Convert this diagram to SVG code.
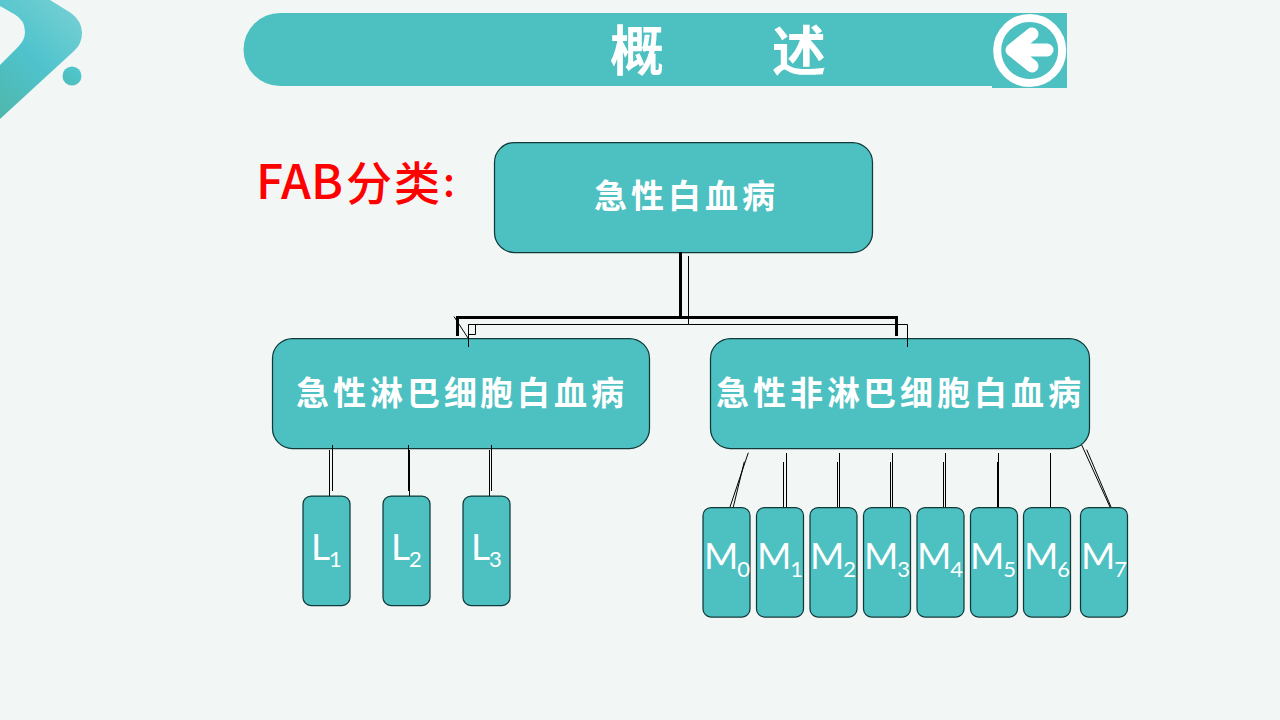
<svg xmlns="http://www.w3.org/2000/svg" width="1280" height="720" viewBox="0 0 1280 720">
<style>
.b{fill:#4dc0c1;stroke:#123a3a;stroke-width:1.25}
.cn{font-family:"Noto Sans CJK SC","Noto Sans CJK JP",sans-serif;font-weight:700;fill:#fff;font-size:33px}
.m{font-family:Lato,"Open Sans",sans-serif;font-weight:400;fill:#fff;font-size:37px}
.s{font-size:22px}
.k1{stroke:#000;stroke-width:3;fill:none}
.k2{stroke:#000;stroke-width:1;fill:none}
.red{font-family:"Noto Sans CJK SC",sans-serif;fill:#ff0000;font-weight:500}
</style>
<defs>
<linearGradient id="g" x1="0.75" y1="0" x2="0.1" y2="1"><stop offset="0" stop-color="#72cfd2"/><stop offset="0.5" stop-color="#4fc3cd"/><stop offset="1" stop-color="#4fb8ae"/></linearGradient>
<linearGradient id="g2" x1="0" y1="1" x2="1" y2="0"><stop offset="0" stop-color="#4fbcb8"/><stop offset="1" stop-color="#50c8d2"/></linearGradient>
</defs>
<rect width="1280" height="720" fill="#f2f7f6"/>
<g id="logo">
<path d="M50 0 L71 13 Q82 21 82 33 Q82 44 74 51 L0 119 L0 65 L18 47 Q25 40 25 32 Q25 20 14 14 L0 6 L0 0 Z" fill="url(#g)"/>
<circle cx="72" cy="76" r="9.500" fill="url(#g2)"/>
</g>
<g id="title">
<path d="M280 13 H1067 V88 H992 V86 H280 A36.500 36.500 0 0 1 280 13 Z" fill="#4dc0c1"/>
<text class="cn" style="font-size:54px" x="610" y="71">概</text>
<text class="cn" style="font-size:54px" x="772" y="71">述</text>
</g>
<g id="back">
<circle cx="1029.700" cy="50.500" r="32.500" fill="#4dc0c1" stroke="#fff" stroke-width="8"/>
<path d="M1032 34 L1012 50 L1032 66 M1014 50 H1047" fill="none" stroke="#fff" stroke-width="13" stroke-linecap="round" stroke-linejoin="round"/>
</g>
<g id="fab">
<text class="red" font-size="48" x="256" y="199">FAB</text>
<text class="red" font-size="46" x="346 394" y="200">分类</text>
<text class="red" font-size="40" font-weight="700" x="443" y="196">:</text>
</g>
<g id="root"><rect class="b" x="494.500" y="142.500" width="378" height="110" rx="20"/><text class="cn" x="594 631 668 705 742" y="208">急性白血病</text></g>
<g id="all"><rect class="b" x="272.500" y="338.500" width="377" height="110" rx="20"/><text class="cn" x="296 333 370 407 444 480 517 554 591" y="405">急性淋巴细胞白血病</text></g>
<g id="anll"><rect class="b" x="710.500" y="338.500" width="379" height="110" rx="20"/><text class="cn" x="716 753 790 827 863 900 937 974 1011 1048" y="405">急性非淋巴细胞白血病</text></g>
<g id="L1"><rect class="b" x="303" y="496" width="47" height="109.500" rx="8"/><text class="m" x="311" y="560">L<tspan class="s" dx="-1" dy="7">1</tspan></text></g>
<g id="L2"><rect class="b" x="383" y="496" width="47" height="109.500" rx="8"/><text class="m" x="391" y="560">L<tspan class="s" dx="-1" dy="7">2</tspan></text></g>
<g id="L3"><rect class="b" x="463" y="496" width="47" height="109.500" rx="8"/><text class="m" x="471" y="560">L<tspan class="s" dx="-1" dy="7">3</tspan></text></g>
<g id="M0"><rect class="b" x="703" y="507.500" width="47" height="109.500" rx="8"/><text class="m" x="704" y="569">M<tspan class="s" dx="-1" dy="8">0</tspan></text></g>
<g id="M1"><rect class="b" x="756.500" y="507.500" width="47" height="109.500" rx="8"/><text class="m" x="757" y="569">M<tspan class="s" dx="-1" dy="8">1</tspan></text></g>
<g id="M2"><rect class="b" x="810" y="507.500" width="47" height="109.500" rx="8"/><text class="m" x="810" y="569">M<tspan class="s" dx="-1" dy="8">2</tspan></text></g>
<g id="M3"><rect class="b" x="863.500" y="507.500" width="47" height="109.500" rx="8"/><text class="m" x="864" y="569">M<tspan class="s" dx="-1" dy="8">3</tspan></text></g>
<g id="M4"><rect class="b" x="917" y="507.500" width="47" height="109.500" rx="8"/><text class="m" x="917" y="569">M<tspan class="s" dx="-1" dy="8">4</tspan></text></g>
<g id="M5"><rect class="b" x="970.500" y="507.500" width="47" height="109.500" rx="8"/><text class="m" x="970" y="569">M<tspan class="s" dx="-1" dy="8">5</tspan></text></g>
<g id="M6"><rect class="b" x="1023.500" y="507.500" width="47" height="109.500" rx="8"/><text class="m" x="1024" y="569">M<tspan class="s" dx="-1" dy="8">6</tspan></text></g>
<g id="M7"><rect class="b" x="1080.500" y="507.500" width="47" height="109.500" rx="8"/><text class="m" x="1081" y="569">M<tspan class="s" dx="-1" dy="8">7</tspan></text></g>
<g id="connectors">
<path class="k1" d="M680.500 252 V318 M457.500 336 V317.500 H896.500 V336"/>
<path class="k2" d="M688.500 256 V324.500 M688.500 324.500 H468.500 V347 M468.500 324.500 H475.500 V334.500 H468.500 M688.500 324.500 H907.500 V347 M454 316.500 L468 338"/>
<path class="k2" d="M329.500 450 V496 M332.500 445 V491 M408.500 445 V491 M409.500 450 V496 M489.500 450 V496 M491.500 445 V491"/>
<path class="k2" d="M730 507 L748.300 452.700 M733.300 507 L744.300 461.700 M783.500 507 V462 M786.500 507 V453 M837.500 507 V462 M839.500 507 V453 M890.500 507 V462 M892.500 507 V453 M943.500 507 V462 M945.500 507 V453 M997.500 507 V462 M998.500 507 V453 M1050.500 507 V453 M1081.700 445 L1110 507 M1086.700 449.700 L1111 507"/>
</g>
</svg>
